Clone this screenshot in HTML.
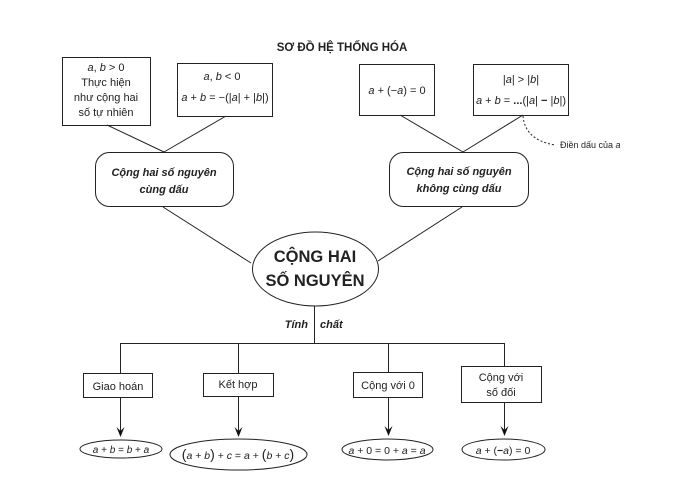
<!DOCTYPE html>
<html><head><meta charset="utf-8"><style>
html,body{margin:0;padding:0;background:#fff;}
svg{display:block;}
text{font-family:"Liberation Sans",sans-serif;fill:#222;}
.m{font-size:11px;}
.i{font-style:italic;}
</style></head><body>
<svg width="697" height="480" viewBox="0 0 697 480" xmlns="http://www.w3.org/2000/svg">
<g stroke="#222" stroke-width="1" fill="none">
<rect x="62.5" y="57.5" width="88" height="68"/>
<rect x="177.5" y="63.5" width="95" height="53"/>
<rect x="359.5" y="64.5" width="75" height="51"/>
<rect x="473.5" y="64.5" width="95" height="51"/>
<rect x="95.5" y="152.5" width="138" height="54" rx="14"/>
<rect x="389.5" y="152.5" width="139" height="54" rx="14"/>
<line x1="107" y1="125" x2="164" y2="152"/>
<line x1="226" y1="116" x2="164" y2="152"/>
<line x1="400" y1="115" x2="463" y2="152"/>
<line x1="523" y1="115" x2="463" y2="152"/>
<path d="M523,116 Q525,140 555,145" stroke-dasharray="2,2"/>
<ellipse cx="315.5" cy="269" rx="63" ry="37"/>
<line x1="163" y1="207" x2="251" y2="263"/>
<line x1="462" y1="207" x2="378" y2="261"/>
<line x1="314.5" y1="306" x2="314.5" y2="343"/>
<line x1="120" y1="343.5" x2="505" y2="343.5"/>
<line x1="120.5" y1="343" x2="120.5" y2="373"/>
<line x1="238.5" y1="343" x2="238.5" y2="373"/>
<line x1="388.5" y1="343" x2="388.5" y2="372"/>
<line x1="504.5" y1="343" x2="504.5" y2="366"/>
<rect x="83.5" y="373.5" width="69" height="24"/>
<rect x="203.5" y="373.5" width="70" height="23"/>
<rect x="353.5" y="372.5" width="69" height="25"/>
<rect x="461.5" y="366.5" width="80" height="36"/>
<line x1="120.5" y1="397" x2="120.5" y2="432"/>
<line x1="238.5" y1="396" x2="238.5" y2="432"/>
<line x1="388.5" y1="397" x2="388.5" y2="431"/>
<line x1="504.5" y1="402" x2="504.5" y2="431"/>
<ellipse cx="121" cy="449" rx="41" ry="9"/>
<ellipse cx="238.5" cy="454.5" rx="68.5" ry="15.5"/>
<ellipse cx="387.5" cy="449.5" rx="45.5" ry="10.5"/>
<ellipse cx="503.5" cy="449.5" rx="41.5" ry="10.5"/>
</g>
<g fill="#111">
<polygon points="116.5,427 120.5,431 124.5,427 120.5,437"/>
<polygon points="234.5,427 238.5,431 242.5,427 238.5,437"/>
<polygon points="384.5,426 388.5,430 392.5,426 388.5,436"/>
<polygon points="500.5,426 504.5,430 508.5,426 504.5,436"/>
</g>
<text x="342" y="51" font-size="11.5" font-weight="bold" text-anchor="middle">SƠ ĐỒ HỆ THỐNG HÓA</text>
<g class="m" text-anchor="middle">
<text x="106" y="71"><tspan class="i">a</tspan>, <tspan class="i">b</tspan> &gt; 0</text>
<text x="106" y="86">Thực hiện</text>
<text x="106" y="101">như cộng hai</text>
<text x="106" y="116">số tự nhiên</text>
<text x="222" y="80"><tspan class="i">a</tspan>, <tspan class="i">b</tspan> &lt; 0</text>
<text x="225" y="101"><tspan class="i">a</tspan> + <tspan class="i">b</tspan> = −(|<tspan class="i">a</tspan>| + |<tspan class="i">b</tspan>|)</text>
<text x="397" y="94"><tspan class="i">a</tspan> + (−<tspan class="i">a</tspan>) = 0</text>
<text x="521" y="83">|<tspan class="i">a</tspan>| &gt; |<tspan class="i">b</tspan>|</text>
<text x="521" y="104"><tspan class="i">a</tspan> + <tspan class="i">b</tspan> = <tspan font-weight="bold">...</tspan>(|<tspan class="i">a</tspan>| <tspan font-weight="bold">−</tspan> |<tspan class="i">b</tspan>|)</text>
<text x="164" y="176" font-weight="bold" font-style="italic">Cộng hai số nguyên</text>
<text x="164" y="193" font-weight="bold" font-style="italic">cùng dấu</text>
<text x="459" y="175" font-weight="bold" font-style="italic">Cộng hai số nguyên</text>
<text x="459" y="192" font-weight="bold" font-style="italic">không cùng dấu</text>
<text x="315" y="262" font-size="16.5" font-weight="bold">CỘNG HAI</text>
<text x="315" y="286" font-size="16.5" font-weight="bold">SỐ NGUYÊN</text>
<text x="118" y="390">Giao hoán</text>
<text x="238" y="388">Kết hợp</text>
<text x="388" y="389">Cộng với 0</text>
<text x="501" y="381">Cộng với</text>
<text x="501" y="396">số đối</text>
<text x="121" y="453" font-size="10"><tspan class="i">a</tspan> + <tspan class="i">b</tspan> = <tspan class="i">b</tspan> + <tspan class="i">a</tspan></text>
<text x="238" y="459" font-size="10.5"><tspan font-size="14">(</tspan><tspan class="i">a</tspan> + <tspan class="i">b</tspan><tspan font-size="14">)</tspan> + <tspan class="i">c</tspan> = <tspan class="i">a</tspan> + <tspan font-size="14">(</tspan><tspan class="i">b</tspan> + <tspan class="i">c</tspan><tspan font-size="14">)</tspan></text>
<text x="387" y="454" font-size="10.5"><tspan class="i">a</tspan> + 0 = 0 + <tspan class="i">a</tspan> = <tspan class="i">a</tspan></text>
<text x="503" y="454" font-size="10.5"><tspan class="i">a</tspan> + (<tspan font-weight="bold">−</tspan><tspan class="i">a</tspan>) = 0</text>
</g>
<text x="308" y="328" font-size="11" font-weight="bold" font-style="italic" text-anchor="end">Tính</text>
<text x="320" y="328" font-size="11" font-weight="bold" font-style="italic">chất</text>
<text x="560" y="148" font-size="9">Điền dấu của <tspan class="i">a</tspan></text>
</svg>
</body></html>
